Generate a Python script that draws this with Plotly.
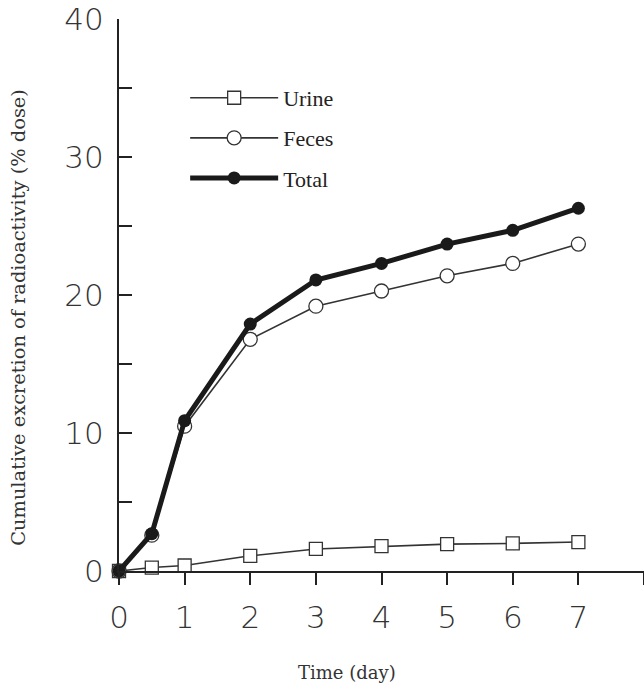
import plotly.graph_objects as go

days = [0, 0.5, 1, 2, 3, 4, 5, 6, 7]
urine = [0, 0.25, 0.4, 1.1, 1.6, 1.8, 1.95, 2.0, 2.1]
feces = [0, 2.6, 10.5, 16.8, 19.2, 20.3, 21.4, 22.3, 23.7]
total = [0, 2.7, 10.9, 17.9, 21.1, 22.3, 23.7, 24.7, 26.3]

x_ticks = [0, 1, 2, 3, 4, 5, 6, 7, 8]
x_labels = ["0", "1", "2", "3", "4", "5", "6", "7", ""]
y_ticks = [0, 10, 20, 30, 40]

serif = "Liberation Serif, Times New Roman, serif"
wide_serif = "DejaVu Serif, serif"
sans = "DejaVu Sans, sans-serif"

fig = go.Figure()
fig.add_trace(go.Scatter(
    x=days, y=urine, name="Urine", mode="lines+markers", legendgroup="u",
    line=dict(color="#333333", width=1.6),
    marker=dict(symbol="square", size=13, color="white", line=dict(color="#333333", width=1.3)),
    cliponaxis=False,
))
fig.add_trace(go.Scatter(
    x=days, y=feces, name="Feces", mode="lines+markers", legendgroup="f",
    line=dict(color="#333333", width=1.6),
    marker=dict(symbol="circle", size=14, color="white", line=dict(color="#333333", width=1.3)),
    cliponaxis=False,
))
fig.add_trace(go.Scatter(
    x=days, y=total, name="Total", mode="lines+markers", legendgroup="t",
    line=dict(color="#1a1a1a", width=5),
    marker=dict(symbol="circle", size=13, color="#1a1a1a"),
    cliponaxis=False,
))

fig.update_layout(
    width=644, height=690,
    margin=dict(l=119, r=0, t=19, b=119),
    paper_bgcolor="white", plot_bgcolor="white",
    showlegend=True,
    legend=dict(
        x=0.126, y=0.895, xanchor="left", yanchor="top",
        font=dict(family=serif, size=22, color="#222222"),
        bgcolor="rgba(0,0,0,0)", tracegroupgap=8.5, traceorder="grouped",
        itemwidth=88,
    ),
    xaxis=dict(
        range=[0, 8], tickvals=x_ticks, ticktext=x_labels, automargin=False,
        showgrid=False, zeroline=False, showline=True, linecolor="#222222", linewidth=2,
        ticks="outside", ticklen=12, tickwidth=1.5, tickcolor="#222222",
        ticklabelstandoff=6,
        tickfont=dict(family=sans, size=31, color="#333333", weight=200),
        ticklabeloverflow="allow",
    ),
    yaxis=dict(
        range=[0, 40.02], tickvals=y_ticks, ticktext=[str(v) for v in y_ticks], automargin=False,
        showgrid=False, zeroline=False, showline=True, linecolor="#222222", linewidth=2,
        ticks="inside", ticklen=13, tickwidth=1.5, tickcolor="#222222",
        ticklabelstandoff=7, ticklabeloverflow="allow",
        tickfont=dict(family=sans, size=31, color="#333333", weight=200),
        minor=dict(dtick=5, tick0=0, ticks="inside", ticklen=13, tickwidth=1.5, tickcolor="#222222"),
    ),
    annotations=[
        dict(text="Time (day)", xref="paper", yref="paper", x=0.434, y=-0.184,
             xanchor="center", yanchor="middle", showarrow=False,
             font=dict(family=wide_serif, size=18, color="#333333")),
        dict(text="Cumulative excretion of radioactivity (% dose)", xref="paper", yref="paper",
             x=-0.192, y=0.459, xanchor="center", yanchor="middle", textangle=-90, showarrow=False,
             font=dict(family=wide_serif, size=19.4, color="#333333")),
    ],
)

fig.write_html(
    "out.html",
    config={"displayModeBar": False},
    post_script="document.body.style.margin='0';document.body.style.padding='0';",
)
